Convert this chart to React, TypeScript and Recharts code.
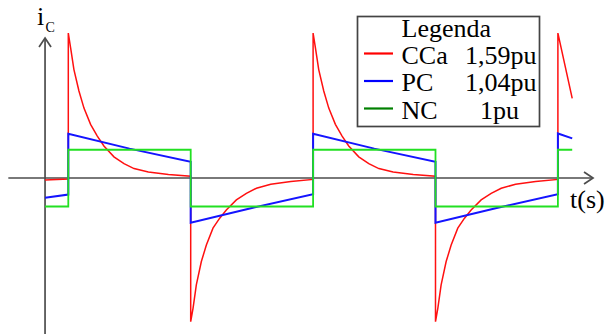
import React from "react";
import { LineChart, Line, XAxis, YAxis, ReferenceLine } from "recharts";

// Time in half-periods of the square-wave drive, current in per-unit.
const ccaCurrent = [
  { t: -0.19, v: -0.07 }, { t: 0, v: -0.04 },
  { t: 0, v: 5.08 }, { t: 0.019, v: 4.56 }, { t: 0.046, v: 3.8 }, { t: 0.087, v: 3.05 },
  { t: 0.128, v: 2.45 }, { t: 0.182, v: 1.88 }, { t: 0.237, v: 1.47 }, { t: 0.291, v: 1.12 },
  { t: 0.373, v: 0.74 }, { t: 0.455, v: 0.5 }, { t: 0.537, v: 0.33 }, { t: 0.654, v: 0.21 },
  { t: 0.818, v: 0.12 }, { t: 1, v: 0.06 },
  { t: 1, v: -5.04 }, { t: 1.019, v: -4.57 }, { t: 1.046, v: -3.75 }, { t: 1.087, v: -2.93 },
  { t: 1.128, v: -2.35 }, { t: 1.182, v: -1.76 }, { t: 1.237, v: -1.41 }, { t: 1.291, v: -1.12 },
  { t: 1.373, v: -0.77 }, { t: 1.455, v: -0.54 }, { t: 1.537, v: -0.36 }, { t: 1.654, v: -0.22 },
  { t: 1.818, v: -0.12 }, { t: 2, v: -0.05 },
  { t: 2, v: 5.08 }, { t: 2.019, v: 4.56 }, { t: 2.046, v: 3.8 }, { t: 2.087, v: 3.05 },
  { t: 2.128, v: 2.45 }, { t: 2.182, v: 1.88 }, { t: 2.237, v: 1.47 }, { t: 2.291, v: 1.12 },
  { t: 2.373, v: 0.74 }, { t: 2.455, v: 0.5 }, { t: 2.537, v: 0.33 }, { t: 2.654, v: 0.21 },
  { t: 2.818, v: 0.12 }, { t: 3, v: 0.06 },
  { t: 3, v: -5.04 }, { t: 3.019, v: -4.57 }, { t: 3.046, v: -3.75 }, { t: 3.087, v: -2.93 },
  { t: 3.128, v: -2.35 }, { t: 3.182, v: -1.76 }, { t: 3.237, v: -1.41 }, { t: 3.291, v: -1.12 },
  { t: 3.373, v: -0.77 }, { t: 3.455, v: -0.54 }, { t: 3.537, v: -0.36 }, { t: 3.654, v: -0.22 },
  { t: 3.818, v: -0.12 }, { t: 4, v: -0.05 },
  { t: 4, v: 5.08 }, { t: 4.117, v: 2.79 },
];

const pcCurrent = [
  { t: -0.19, v: -0.69 }, { t: 0, v: -0.58 },
  { t: 0, v: 1.55 }, { t: 0.5, v: 1.03 }, { t: 1, v: 0.57 },
  { t: 1, v: -1.57 }, { t: 1.5, v: -1.05 }, { t: 2, v: -0.57 },
  { t: 2, v: 1.55 }, { t: 2.5, v: 1.03 }, { t: 3, v: 0.57 },
  { t: 3, v: -1.57 }, { t: 3.5, v: -1.05 }, { t: 4, v: -0.57 },
  { t: 4, v: 1.56 }, { t: 4.117, v: 1.39 },
];

const ncCurrent = [
  { t: -0.19, v: -1.0 }, { t: 0, v: -1.0 },
  { t: 0, v: 0.99 }, { t: 1, v: 0.99 },
  { t: 1, v: -1.0 }, { t: 2, v: -1.0 },
  { t: 2, v: 0.99 }, { t: 3, v: 0.99 },
  { t: 3, v: -1.0 }, { t: 4, v: -1.0 },
  { t: 4, v: 0.99 }, { t: 4.117, v: 0.99 },
];

const legendTitle = "Legenda";
const legendNames = ["CCa", "PC", "NC"];
const legendValues = ["1,59pu", "1,04pu", "1pu"];
const legendColors = ["#ff0000", "#0000ff", "#008000"];

const T_DOMAIN: [number, number] = [-0.558, 4.393];
const I_DOMAIN: [number, number] = [-5.47, 6.24];

// Axis segments (data coordinates) with arrowheads at their ends
const timeAxis = [{ x: -0.49, y: 0 }, { x: 4.287, y: 0 }];
const currentAxis = [{ x: -0.19, y: -5.47 }, { x: -0.19, y: 4.91 }];

const AXIS_COLOR = "#4d4d4d";
const FONT = "'Liberation Serif', 'Times New Roman', serif";

function ArrowLine(props: any) {
  const { x1, y1, x2, y2 } = props;
  const dx = x2 - x1;
  const dy = y2 - y1;
  const len = Math.hypot(dx, dy) || 1;
  const ux = dx / len;
  const uy = dy / len;
  const back = 9;
  const half = 6;
  const ax = x2 - ux * back;
  const ay = y2 - uy * back;
  const p1 = `${ax - uy * half},${ay + ux * half}`;
  const p2 = `${x2},${y2}`;
  const p3 = `${ax + uy * half},${ay - ux * half}`;
  return (
    <g>
      <line x1={x1} y1={y1} x2={x2} y2={y2} stroke={AXIS_COLOR} strokeWidth={1.7} />
      <polyline points={`${p1} ${p2} ${p3}`} fill="none" stroke={AXIS_COLOR} strokeWidth={1.7} />
    </g>
  );
}

export default function App() {
  const rowBase = [63.5, 91, 118.5];
  const valueX = [465, 465, 480];
  return (
    <div style={{ position: "absolute", left: 0, top: 0, width: 606, height: 334, overflow: "hidden", background: "#fff" }}>
      <LineChart width={606} height={334} margin={{ top: 0, right: 0, bottom: 0, left: 0 }}>
        <XAxis type="number" dataKey="t" domain={T_DOMAIN} allowDataOverflow hide />
        <YAxis type="number" dataKey="v" domain={I_DOMAIN} allowDataOverflow hide />
        <ReferenceLine segment={timeAxis} ifOverflow="visible" shape={ArrowLine} />
        <ReferenceLine segment={currentAxis} ifOverflow="visible" shape={ArrowLine} />
        <Line data={ccaCurrent} dataKey="v" type="linear" stroke="#ff1010" strokeWidth={1.5} dot={false} activeDot={false} isAnimationActive={false} />
        <Line data={pcCurrent} dataKey="v" type="linear" stroke="#1414ff" strokeWidth={2} dot={false} activeDot={false} isAnimationActive={false} />
        <Line data={ncCurrent} dataKey="v" type="linear" stroke="#22e022" strokeWidth={1.8} dot={false} activeDot={false} isAnimationActive={false} />
      </LineChart>
      <svg width={606} height={334} style={{ position: "absolute", left: 0, top: 0, pointerEvents: "none" }}>
        <g fontFamily={FONT} fill="#000">
          <text x={37} y={25} fontSize={26}>i</text>
          <text x={45.5} y={32} fontSize={14}>C</text>
          <text x={570} y={208} fontSize={26}>t(s)</text>
        </g>
        <rect x={357.5} y={16.5} width={182} height={110} fill="#fff" stroke="#444" strokeWidth={1.7} />
        <g fontFamily={FONT} fontSize={26} fill="#000">
          <text x={401.5} y={37}>{legendTitle}</text>
          {legendNames.map((name, i) => (
            <g key={name}>
              <line x1={364} x2={393} y1={rowBase[i] - 10} y2={rowBase[i] - 10} stroke={legendColors[i]} strokeWidth={2.2} />
              <text x={401.5} y={rowBase[i]}>{name}</text>
              <text x={valueX[i]} y={rowBase[i]}>{legendValues[i]}</text>
            </g>
          ))}
        </g>
      </svg>
    </div>
  );
}
